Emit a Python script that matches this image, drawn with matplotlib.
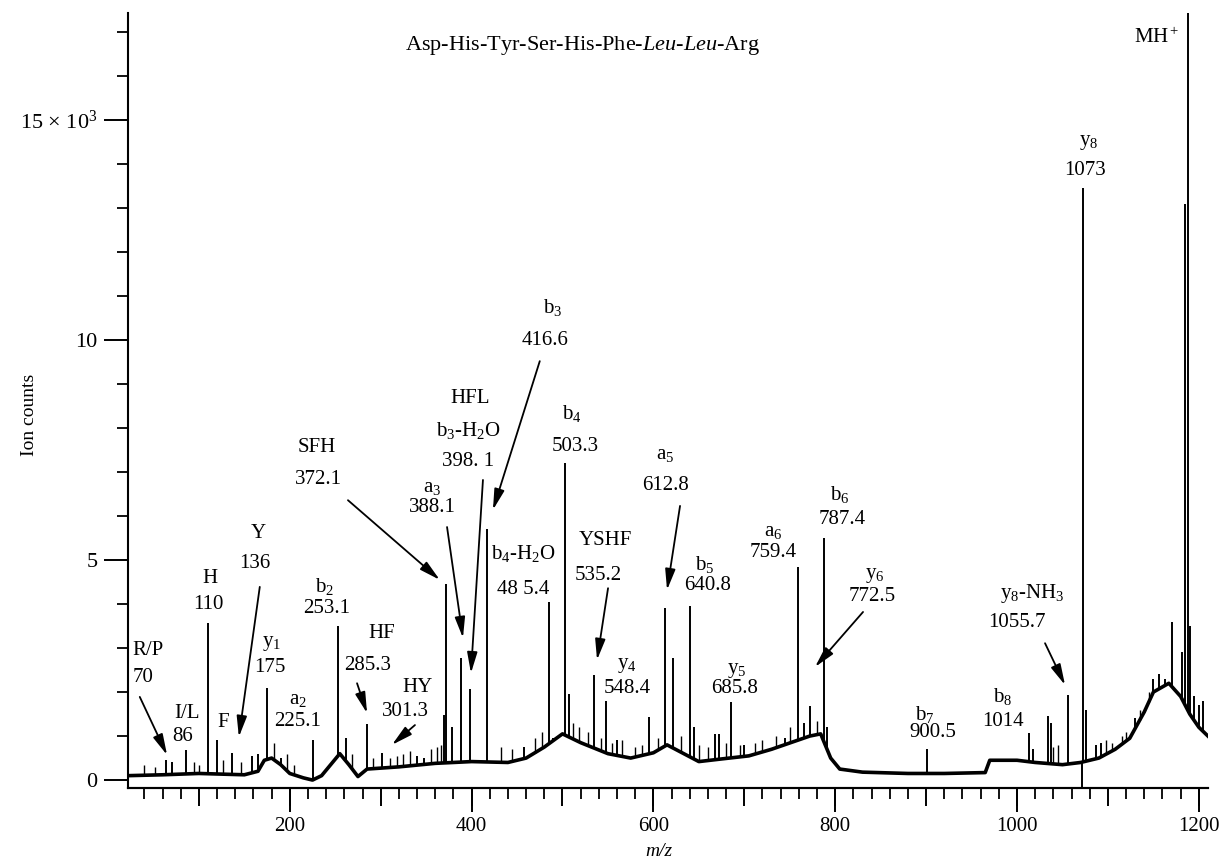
import matplotlib
matplotlib.use('Agg')
import matplotlib.pyplot as plt
import numpy as np
from matplotlib.ticker import MultipleLocator, FuncFormatter

plt.rcParams['font.family'] = ['Liberation Serif', 'DejaVu Serif']
plt.rcParams['mathtext.fontset'] = 'custom'
plt.rcParams['mathtext.rm'] = 'Liberation Serif'
plt.rcParams['mathtext.it'] = 'Liberation Serif:italic'

# spectrum baseline (m/z, ion counts x 10^3)
base_mz = [22, 60, 100, 150, 165, 172, 180, 190, 200, 215, 225, 235, 245, 255, 265,
           275, 285, 320, 360, 400, 440, 460, 480, 500, 520, 550, 575, 600, 615, 650,
           675, 705, 730, 758, 772, 784, 795, 805, 830, 880, 920, 965, 970, 1000, 1020,
           1050, 1070, 1090, 1108, 1124, 1140, 1150, 1167, 1180, 1190, 1200, 1210]
base_lv = [0.10, 0.12, 0.15, 0.12, 0.20, 0.45, 0.50, 0.35, 0.15, 0.05, 0.00, 0.10, 0.35, 0.60, 0.35,
           0.08, 0.25, 0.30, 0.38, 0.42, 0.40, 0.50, 0.75, 1.05, 0.85, 0.60, 0.50, 0.62, 0.80, 0.42,
           0.48, 0.55, 0.70, 0.90, 1.00, 1.05, 0.50, 0.25, 0.18, 0.15, 0.15, 0.17, 0.45, 0.45, 0.40,
           0.35, 0.40, 0.50, 0.70, 0.95, 1.55, 2.00, 2.20, 1.90, 1.50, 1.20, 1.00]

# main peaks (m/z, height)
peak_mz = [64, 70, 86, 110, 120, 136, 158, 165, 175, 190, 225.1, 253.1, 262, 285.3, 301.3,
           340, 348, 370, 372.1, 378, 388.1, 398.1, 416.6, 458, 485.4, 490, 503.3, 507,
           535.2, 548.4, 560, 595, 612.8, 622, 640.8, 645, 668, 672, 685.8, 700, 745,
           759.4, 766, 772.5, 787.4, 791, 900.5, 1013, 1018, 1034, 1037, 1055.7, 1071,
           1073, 1076, 1087, 1092, 1130, 1150, 1156, 1163, 1171, 1182, 1185, 1187.6,
           1190, 1195, 1200, 1205]
peak_ht = [0.45, 0.40, 0.68, 3.57, 0.90, 0.62, 0.55, 0.60, 2.10, 0.50, 0.92, 3.50, 0.95, 1.27, 0.62,
           0.55, 0.50, 1.48, 4.45, 1.20, 2.78, 2.07, 5.70, 0.75, 4.05, 0.95, 7.20, 1.96,
           2.39, 1.80, 0.90, 1.43, 3.90, 2.77, 3.95, 1.20, 1.05, 1.05, 1.78, 0.80, 0.95,
           4.85, 1.30, 1.68, 5.50, 1.20, 0.70, 1.07, 0.70, 1.45, 1.30, 1.93, -0.15,
           13.45, 1.60, 0.80, 0.85, 1.40, 2.30, 2.40, 2.30, 3.60, 2.90, 13.10, 17.60,
           3.50, 1.90, 1.70, 1.80]

# small noise spikes on the baseline
noise_mz = [40, 52, 95, 100, 126, 146, 183, 197, 205, 268, 292, 310, 318, 325, 332, 355,
            362, 366, 432, 445, 470, 478, 512, 518, 528, 542, 555, 565, 580, 588, 605,
            630, 650, 660, 680, 695, 712, 720, 735, 750, 780, 1040, 1045, 1098, 1105,
            1115, 1120, 1135, 1145]
noise_ht = [0.35, 0.30, 0.40, 0.35, 0.45, 0.40, 0.85, 0.60, 0.35, 0.60, 0.50, 0.50, 0.55,
            0.60, 0.65, 0.70, 0.75, 0.80, 0.75, 0.70, 0.95, 1.10, 1.30, 1.20, 1.10, 0.95,
            0.85, 0.90, 0.75, 0.80, 0.95, 1.00, 0.80, 0.75, 0.85, 0.80, 0.85, 0.90, 1.00,
            1.20, 1.35, 0.75, 0.80, 0.90, 0.85, 1.00, 1.10, 1.60, 2.00]

peptide = 'Asp-His-Tyr-Ser-His-Phe-$\\mathit{Leu}$-$\\mathit{Leu}$-Arg'

# peak labels
label_text = ['R/P', '70', 'I/L', '86', 'F', 'H', '110', 'Y', '136', 'y$_1$', '175',
              'a$_2$', '225.1', 'b$_2$', '253.1', 'HF', '285.3', 'HY', '301.3',
              'SFH', '372.1', 'a$_3$', '388.1', 'HFL', 'b$_3$-H$_2$O', '398. 1',
              'b$_3$', '416.6', 'b$_4$-H$_2$O', '48 5.4', 'b$_4$', '503.3',
              'YSHF', '535.2', 'y$_4$', '548.4', 'a$_5$', '612.8', 'b$_5$', '640.8',
              'y$_5$', '685.8', 'a$_6$', '759.4', 'b$_6$', '787.4', 'y$_6$', '772.5',
              'b$_7$', '900.5', 'b$_8$', '1014', 'y$_8$-NH$_3$', '1055.7',
              'y$_8$', '1073', 'MH$^+$']

# layout: label centres in data coordinates
label_pos = [(44, 2.95), (39, 2.32), (87, 1.52), (82.5, 1.0), (126.5, 1.30), (112, 4.59),
             (110, 4.0), (165, 5.61), (161.7, 4.93), (180.4, 3.11), (178.2, 2.55),
             (209, 1.82), (209, 1.32), (238.7, 4.39), (240.9, 3.91), (301.4, 3.34),
             (286, 2.61), (341, 2.11), (326.7, 1.55),
             (230, 7.55), (231, 6.84), (356.4, 6.64), (356.4, 6.20), (398.2, 8.66),
             (396, 7.95), (396, 7.23), (489.5, 10.75), (480.7, 10.0), (456.5, 5.14),
             (456.5, 4.34), (510.5, 8.34), (513.8, 7.57),
             (546.8, 5.45), (539.1, 4.66), (571, 2.61), (571, 2.07), (612.8, 7.39),
             (612.8, 6.70), (656.8, 4.89), (660.1, 4.43),
             (692, 2.50), (689.8, 2.07), (731.6, 5.64), (731.6, 5.18), (805.3, 6.48),
             (807.5, 5.93), (843.8, 4.64), (840.5, 4.18),
             (898.8, 1.48), (907.6, 1.07), (984.6, 1.89), (984.6, 1.32), (1016.5, 4.25),
             (1000, 3.57), (1079.2, 14.5), (1074.8, 13.86), (1154, 16.86)]

# arrows: (from, to)
arrows = [((35, 1.89), (65, 0.57)), ((167, 4.39), (144, 0.98)), ((274, 2.2), (285, 1.52)),
          ((337.7, 1.25), (312.4, 0.80)), ((264, 6.36), (365, 4.55)),
          ((373, 5.75), (390.5, 3.23)), ((412.5, 6.82), (399.3, 2.43)),
          ((475, 9.52), (423.5, 6.14)), ((550.1, 4.36), (538, 2.73)),
          ((629.3, 6.23), (615, 4.32)), ((830.6, 3.82), (777.8, 2.57)),
          ((1030.8, 3.11), (1052.8, 2.16))]

fig = plt.figure(figsize=(12.21, 8.61), dpi=100)
ax = fig.add_axes([0.1048, 0.0848, 0.8845, 0.900])

ax.plot(base_mz, base_lv, color='black', lw=2.6, solid_joinstyle='round')
foot = np.interp(peak_mz, base_mz, base_lv)
ax.vlines(peak_mz, foot, peak_ht, color='black', lw=1.4)
nfoot = np.interp(noise_mz, base_mz, base_lv)
ax.vlines(noise_mz, nfoot, noise_ht, color='black', lw=1.0)

for s, (x, y) in zip(label_text, label_pos):
    ax.text(x, y, s, ha='center', va='center', fontsize=15)

for (x0, y0), (x1, y1) in arrows:
    ax.annotate('', xy=(x1, y1), xytext=(x0, y0),
                arrowprops=dict(arrowstyle='-|>,head_length=0.9,head_width=0.22',
                                color='black', lw=1.3, shrinkA=0, shrinkB=0,
                                mutation_scale=14))

ax.text(522.6, 16.7, peptide, ha='center', va='center', fontsize=16)

ax.set_xlim(22, 1210)
ax.set_ylim(-0.18, 17.43)
for side in ['top', 'right']:
    ax.spines[side].set_visible(False)
for side in ['left', 'bottom']:
    ax.spines[side].set_linewidth(1.5)

ax.xaxis.set_major_locator(MultipleLocator(100))
ax.xaxis.set_major_formatter(FuncFormatter(lambda v, p: ''))
ax.xaxis.set_minor_locator(MultipleLocator(20))
ax.tick_params(axis='x', which='major', length=13, width=1.4)
ax.tick_params(axis='x', which='minor', length=8, width=1.3)

secax = ax.secondary_xaxis('bottom')
secax.set_xticks([200, 400, 600, 800, 1000, 1200])
secax.tick_params(length=17, width=1.4, labelsize=15, pad=4)
secax.spines['bottom'].set_linewidth(1.5)

ax.set_yticks([0, 5, 10, 15], ['0', '5', '10', '15 $\\times$ 10$^3$'])
ax.yaxis.set_minor_locator(MultipleLocator(1))
ax.tick_params(axis='y', which='major', length=17, width=1.4, labelsize=16, pad=5)
ax.tick_params(axis='y', which='minor', length=8, width=1.3)

fig.text(0.024, 1 - 415 / 861, 'Ion counts', rotation=90, ha='center', va='center', fontsize=14)
fig.text(659 / 1221, 1 - 851 / 861, 'm/z', style='italic', ha='center', va='center', fontsize=14)

fig.savefig('out.png', dpi=100)
